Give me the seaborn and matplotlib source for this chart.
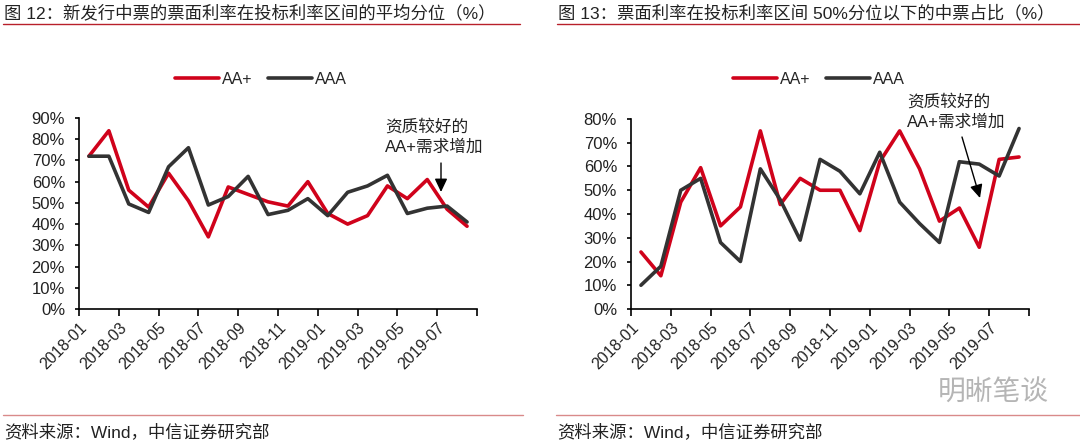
import matplotlib
matplotlib.use("Agg")
import matplotlib.pyplot as plt
from matplotlib.lines import Line2D
import numpy as np
import pandas as pd
import seaborn as sns

###############################################################################
# Data
###############################################################################

months = ['2018-01', '2018-02', '2018-03', '2018-04', '2018-05', '2018-06',
          '2018-07', '2018-08', '2018-09', '2018-10', '2018-11', '2018-12',
          '2019-01', '2019-02', '2019-03', '2019-04', '2019-05', '2019-06',
          '2019-07', '2019-08']

# Fig 12: average quantile of coupon rate within the bidding range (%)
avg_aa_plus = [72, 84, 56, 48, 64, 51, 34, 57.5, 54, 50.5, 48.5, 60,
               45, 40, 44, 58, 52, 61, 47, 39]
avg_aaa = [72, 72, 49.5, 45.5, 67, 76, 49, 53, 62.5, 44.5, 46.5, 52,
           44, 55, 58, 63, 45, 47.5, 48.5, 41]

# Fig 13: share of notes below the 50% quantile (%)
share_aa_plus = [24, 14, 45, 59.5, 35, 43, 75, 44, 55, 50, 50, 33,
                 62, 75, 59, 37, 42.5, 26, 63, 64]
share_aaa = [10, 18, 50, 55, 28, 20, 59, 46, 29, 63, 58, 48.5,
             66, 45, 36, 28, 62, 61, 56, 76]

series_names = ['AA+', 'AAA']
titles = ['图 12：新发行中票的票面利率在投标利率区间的平均分位（%）',
          '图 13：票面利率在投标利率区间 50%分位以下的中票占比（%）']
note_text = '资质较好的\nAA+需求增加'
source_text = '资料来源：Wind，中信证券研究部'
watermark = '明晰笔谈'

###############################################################################
# Styling
###############################################################################

sns.set_style('white')
plt.rcParams['font.family'] = ['Liberation Sans', 'Noto Sans CJK SC', 'DejaVu Sans']
plt.rcParams['axes.unicode_minus'] = False

palette = {'AA+': '#d0021b', 'AAA': '#333333'}
W, H = 1080, 441


def fpx(x, y):
    # pixel position -> figure fraction
    return x / W, 1 - y / H


def long_frame(aa_plus, aaa):
    df = pd.DataFrame({'x': np.arange(len(months)), 'AA+': aa_plus, 'AAA': aaa})
    return df.melt(id_vars='x', var_name='rating', value_name='value')


fig = plt.figure(figsize=(10.8, 4.41), dpi=100)

panels = [
    dict(rect=(79, 118, 477, 309), df=long_frame(avg_aa_plus, avg_aaa), ymax=90,
         legend=261, title_x=4, line=(3, 520), note=(385, 136.5),
         arrow=((441, 163), (441, 192)), foot=(3, 523)),
    dict(rect=(631, 119, 1029, 309), df=long_frame(share_aa_plus, share_aaa), ymax=80,
         legend=819, title_x=558, line=(557, 1080), note=(907, 111.5),
         arrow=((962, 137), (980, 198)), foot=(556, 1080)),
]

for p, title in zip(panels, titles):
    x0, y0, x1, y1 = p['rect']
    ax = fig.add_axes([x0 / W, 1 - y1 / H, (x1 - x0) / W, (y1 - y0) / H])
    sns.lineplot(data=p['df'], x='x', y='value', hue='rating',
                 hue_order=series_names, palette=palette,
                 linewidth=2.6, ax=ax)

    ax.set_xlim(-0.5, len(months) - 0.5)
    ax.set_ylim(0, p['ymax'])
    ax.set_yticks(np.arange(0, p['ymax'] + 1, 10))
    ax.set_yticklabels([f'{v}%' for v in range(0, p['ymax'] + 1, 10)])
    ticks = np.arange(-0.5, len(months), 2)
    ax.set_xticks(ticks)
    ax.set_xticklabels(months[::2] + [''] * (len(ticks) - len(months[::2])),
                       rotation=45, ha='right', rotation_mode='anchor')
    ax.set_xlabel('')
    ax.set_ylabel('')
    for s in ['top', 'right']:
        ax.spines[s].set_visible(False)
    for s in ['left', 'bottom']:
        ax.spines[s].set_color('black')
        ax.spines[s].set_linewidth(1.2)
    ax.tick_params(axis='x', direction='out', length=5, width=1.2,
                   color='black', labelsize=11.5, pad=3, bottom=True,
                   labelcolor='#222222')
    ax.tick_params(axis='y', direction='out', length=3, width=1.2,
                   color='black', labelsize=12, pad=7, left=True,
                   labelcolor='#222222')
    ax.grid(False)

    handles, labels = ax.get_legend_handles_labels()
    ax.legend(handles, labels, loc='center', ncol=2, frameon=False,
              bbox_to_anchor=fpx(p['legend'], 79), bbox_transform=fig.transFigure,
              fontsize=11.5, handlelength=2.75, handletextpad=0.2,
              columnspacing=1.0)

    # annotation
    fig.text(*fpx(*p['note']), note_text, fontsize=12, ha='left', va='center',
             linespacing=1.35, color='#222222')
    (sx, sy), (tx, ty) = p['arrow']
    ax.annotate('', xy=fpx(tx, ty), xycoords='figure fraction',
                xytext=fpx(sx, sy), textcoords='figure fraction',
                arrowprops=dict(arrowstyle='-|>,head_width=0.38,head_length=0.8',
                                color='black', lw=1, mutation_scale=10,
                                shrinkA=0, shrinkB=0))

    # title and its rule
    fig.text(*fpx(p['title_x'], 13), title, fontsize=12.5, ha='left', va='center',
             color='#222222')
    lx0, lx1 = p['line']
    fig.add_artist(Line2D([lx0 / W, lx1 / W], [1 - 24 / H] * 2,
                          transform=fig.transFigure, color='#b8202a', lw=1))

    # source line
    fx0, fx1 = p['foot']
    fig.add_artist(Line2D([fx0 / W, fx1 / W], [1 - 415 / H] * 2,
                          transform=fig.transFigure, color='#d98a8a', lw=1))
    fig.text(*fpx(fx0 + 1, 432), source_text, fontsize=12.5, ha='left',
             va='center', color='#222222')

fig.text(*fpx(938, 394), watermark, fontsize=20, ha='left', va='center',
         color='#b5b5b5')

fig.savefig('out.png', dpi=100)
